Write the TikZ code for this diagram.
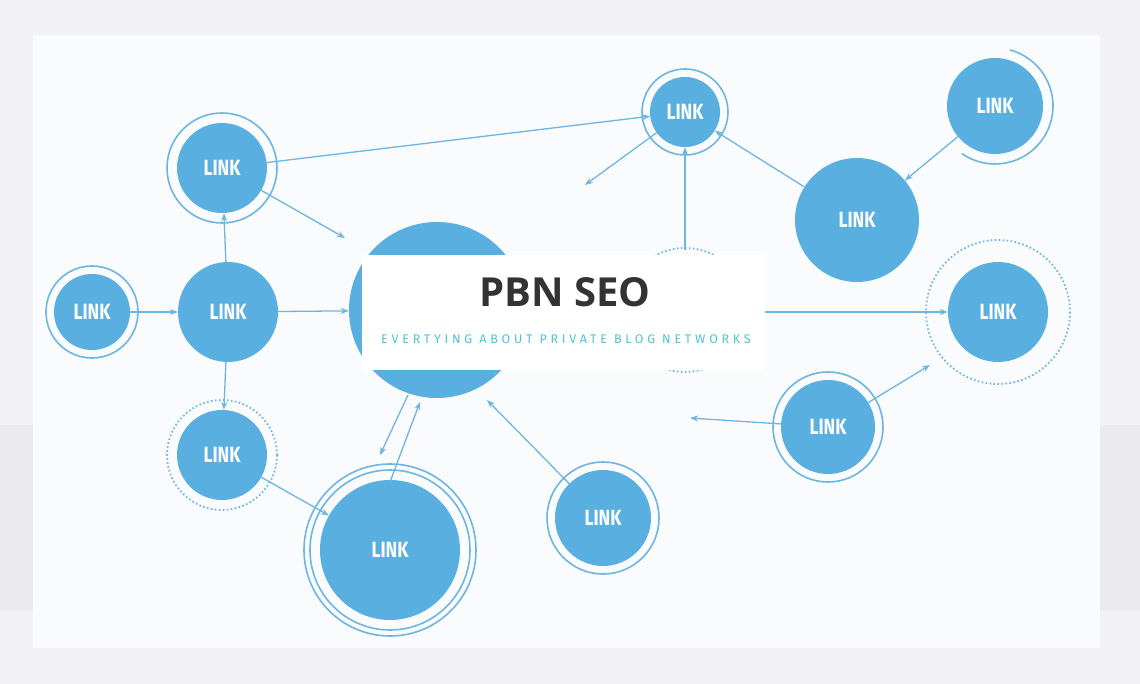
\documentclass[tikz,border=0pt]{standalone}
\usepackage{fontspec}
\setmainfont{Fira Sans}
\newfontfamily\titlefont{Open Sans}
\usetikzlibrary{arrows.meta}
\definecolor{cblue}{HTML}{5AAFE1}
\definecolor{lblue}{HTML}{6DB6E2}
\definecolor{bg}{HTML}{F2F2F4}
\definecolor{bg2}{HTML}{EBEBED}
\definecolor{panel}{HTML}{FAFBFC}
\definecolor{sub}{HTML}{4FC3DA}
\definecolor{ttl}{HTML}{333335}
\begin{document}
\begin{tikzpicture}[x=1pt,y=-1pt,
  lk/.style={circle,fill=cblue,text=white,inner sep=0pt,font=\fontsize{22}{22}\selectfont\bfseries,minimum size=#1},
  ring/.style={draw=lblue,line width=1.6pt},
  dring/.style={draw=lblue,line width=1.8pt,dash pattern=on 1.6pt off 2.4pt},
  ar/.style={draw=lblue,line width=1.3pt,-{Stealth[length=8pt,width=6pt]}}]
\useasboundingbox (0,0) rectangle (1140,684);
\fill[bg] (0,0) rectangle (1140,684);
\fill[bg2] (0,425) rectangle (1140,610);
\fill[panel] (33,35) rectangle (1100,648);
% rings
\draw[ring] (222,168) circle (55);
\draw[ring] (685,112) circle (43);
\draw[ring] (995,106) ++(125:58) arc (125:-75:58);
\draw[ring] (92,312) circle (46);
\draw[dring] (685,310) circle (62);
\draw[dring] (998,312) circle (72);
\draw[dring] (222,455) circle (55);
\draw[ring] (828,427) circle (55);
\draw[ring] (390,550) circle (80);
\draw[ring] (390,550) circle (86);
\draw[ring] (603,518) circle (56);
% nodes
\node[lk=90pt] (l1) at (222,168) {\scalebox{0.8}[1]{LINK}};
\node[lk=70pt] (l2) at (685,112) {\scalebox{0.8}[1]{LINK}};
\node[lk=96pt] (l3) at (995,106) {\scalebox{0.8}[1]{LINK}};
\node[lk=124pt] (l4) at (857,220) {\scalebox{0.8}[1]{LINK}};
\node[lk=76pt] (l5) at (92,312) {\scalebox{0.8}[1]{LINK}};
\node[lk=100pt] (l6) at (228,312) {\scalebox{0.8}[1]{LINK}};
\node[lk=176pt] (c) at (437,310) {};
\node[lk=110pt] (h) at (685,310) {};
\node[lk=100pt] (l7) at (998,312) {\scalebox{0.8}[1]{LINK}};
\node[lk=90pt] (l8) at (222,455) {\scalebox{0.8}[1]{LINK}};
\node[lk=94pt] (l9) at (828,427) {\scalebox{0.8}[1]{LINK}};
\node[lk=140pt] (l10) at (390,550) {\scalebox{0.8}[1]{LINK}};
\node[lk=96pt] (l11) at (603,518) {\scalebox{0.8}[1]{LINK}};
% arrows
\coordinate (a1) at (345,238);
\coordinate (a2) at (585,185);
\coordinate (a3) at (690,418);
\coordinate (a4) at (380,455);
\coordinate (a5) at (420,402);
\draw[ar] (l1) -- (l2);
\draw[ar] (l1) -- (a1);
\draw[ar] (l2) -- (a2);
\draw[ar] (l4) -- (l2);
\draw[ar] (l3) -- (l4);
\draw[ar] (685,250) -- (l2);
\draw[ar] (l5) -- (l6);
\draw[ar] (l6) -- (l1);
\draw[ar] (l6) -- (c);
\draw[ar] (l6) -- (l8);
\draw[ar] (l8) -- (l10);
\draw[ar] (408,395) -- (a4);
\draw[ar] (390,482) -- (a5);
\draw[ar] (l11) -- (487,400);
\draw[ar] (l9) -- (a3);
\draw[ar] (l9) -- (930,365);
% banner
\fill[white] (362,255) rectangle (765,370);
\node[font=\titlefont\fontsize{40}{40}\selectfont\bfseries,text=ttl] (t) at (565,292) {PBN SEO};
\node[font=\fontsize{12.5}{12.5}\selectfont,text=sub] (s) at (566,339) {\addfontfeature{LetterSpace=30}EVERTYING ABOUT PRIVATE BLOG NETWORKS};
\draw[ar] (765,312) -- (l7);
\end{tikzpicture}
\end{document}
